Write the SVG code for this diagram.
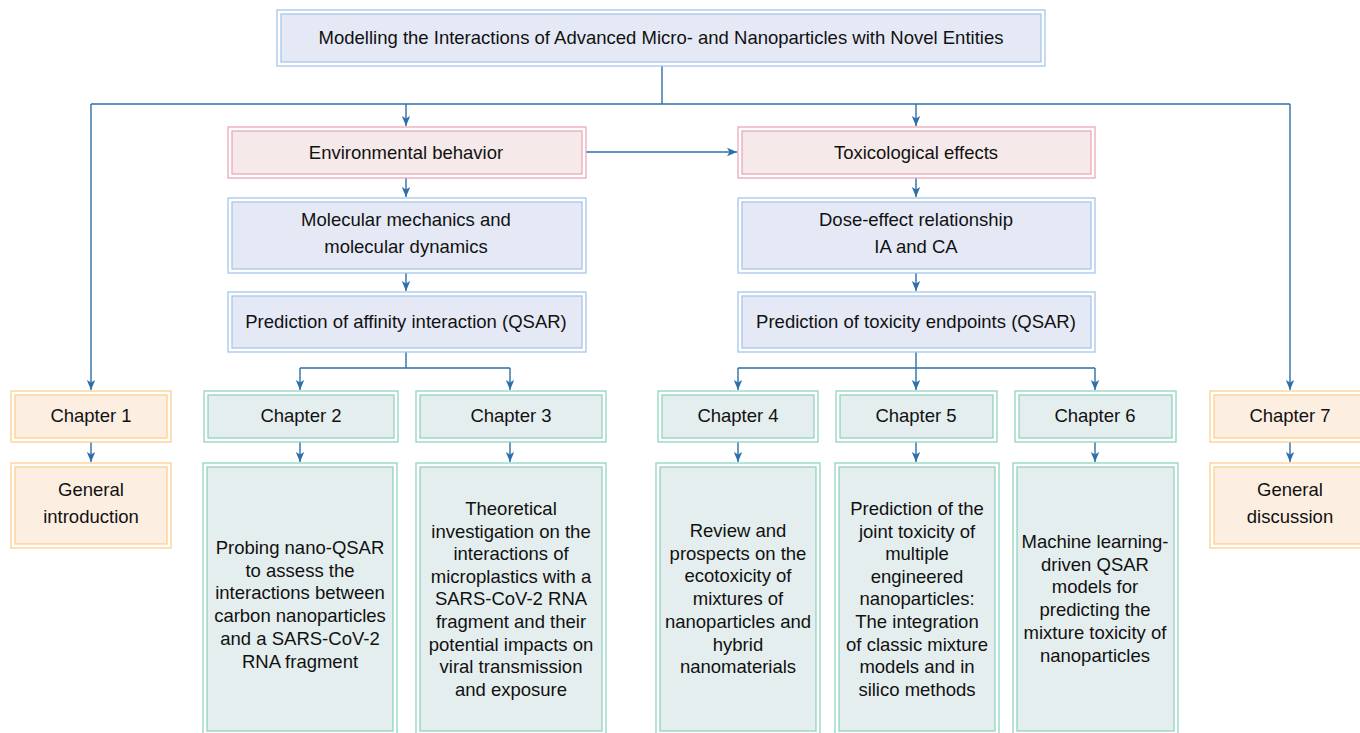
<svg xmlns="http://www.w3.org/2000/svg" width="1360" height="733" viewBox="0 0 1360 733">
<defs>
<style>
text{font-family:"Liberation Sans",Arial,sans-serif;font-size:18.5px;fill:#111;text-anchor:middle}
.o{fill:#fff;stroke-width:1.3}
.i{stroke-width:1.3}
.blue .o,.blue .i{stroke:#a7c6ea}
.blue .i{fill:#e5e9f5}
.pink .o,.pink .i{stroke:#eaa9b9}
.pink .i{fill:#f5e9e9}
.green .o,.green .i{stroke:#92d3c0}
.green .i{fill:#e5eeee}
.orange .o,.orange .i{stroke:#fcd08f}
.orange .i{fill:#fdeee2}
.c{fill:none;stroke:#2b70a8;stroke-width:1.4}
</style>
<marker id="ah" markerUnits="userSpaceOnUse" viewBox="0 0 10 10" markerWidth="10" markerHeight="10" refX="10" refY="5" orient="auto">
<path d="M0,0.8 L10,5 L0,9.2 L2.5,5 z" fill="#2b70a8"/>
</marker>
</defs>
<rect width="1360" height="733" fill="#fff"/>

<g id="connectors">
<path class="c" d="M662,66 V104"/>
<path class="c" d="M91,104 H1290"/>
<path class="c" d="M91,104 V390" marker-end="url(#ah)"/>
<path class="c" d="M406,104 V126" marker-end="url(#ah)"/>
<path class="c" d="M916,104 V126" marker-end="url(#ah)"/>
<path class="c" d="M1290,104 V390" marker-end="url(#ah)"/>
<path class="c" d="M586,152 H737" marker-end="url(#ah)"/>
<path class="c" d="M406,178 V197" marker-end="url(#ah)"/>
<path class="c" d="M916,178 V197" marker-end="url(#ah)"/>
<path class="c" d="M406,273 V291" marker-end="url(#ah)"/>
<path class="c" d="M916,273 V291" marker-end="url(#ah)"/>
<path class="c" d="M406,352 V368 M300,368 H510"/>
<path class="c" d="M300,368 V390" marker-end="url(#ah)"/>
<path class="c" d="M510,368 V390" marker-end="url(#ah)"/>
<path class="c" d="M916,352 V368 M738,368 H1095"/>
<path class="c" d="M738,368 V390" marker-end="url(#ah)"/>
<path class="c" d="M916,368 V390" marker-end="url(#ah)"/>
<path class="c" d="M1095,368 V390" marker-end="url(#ah)"/>
<path class="c" d="M91,442 V462" marker-end="url(#ah)"/>
<path class="c" d="M300,442 V462" marker-end="url(#ah)"/>
<path class="c" d="M510,442 V462" marker-end="url(#ah)"/>
<path class="c" d="M738,442 V462" marker-end="url(#ah)"/>
<path class="c" d="M916,442 V462" marker-end="url(#ah)"/>
<path class="c" d="M1095,442 V462" marker-end="url(#ah)"/>
<path class="c" d="M1290,442 V462" marker-end="url(#ah)"/>
</g>

<g id="title" class="blue">
<rect class="o" x="277" y="10" width="768" height="56"/>
<rect class="i" x="281" y="14" width="760" height="48"/>
<text x="661" y="44">Modelling the Interactions of Advanced Micro- and Nanoparticles with Novel Entities</text>
</g>

<g id="env" class="pink">
<rect class="o" x="228" y="127" width="358" height="51"/>
<rect class="i" x="232" y="131" width="350" height="43"/>
<text x="406" y="159">Environmental behavior</text>
</g>
<g id="tox" class="pink">
<rect class="o" x="738" y="127" width="357" height="51"/>
<rect class="i" x="742" y="131" width="349" height="43"/>
<text x="916" y="159">Toxicological effects</text>
</g>

<g id="mm" class="blue">
<rect class="o" x="228" y="198" width="358" height="75"/>
<rect class="i" x="232" y="202" width="350" height="67"/>
<text x="406" y="225.5">Molecular mechanics and<tspan x="406" dy="27.5">molecular dynamics</tspan></text>
</g>
<g id="dose" class="blue">
<rect class="o" x="738" y="198" width="357" height="75"/>
<rect class="i" x="742" y="202" width="349" height="67"/>
<text x="916" y="225.5">Dose-effect relationship<tspan x="916" dy="27.5">IA and CA</tspan></text>
</g>

<g id="aff" class="blue">
<rect class="o" x="228" y="292" width="358" height="60"/>
<rect class="i" x="232" y="296" width="350" height="52"/>
<text x="406" y="328">Prediction of affinity interaction (QSAR)</text>
</g>
<g id="toxq" class="blue">
<rect class="o" x="738" y="292" width="357" height="60"/>
<rect class="i" x="742" y="296" width="349" height="52"/>
<text x="916" y="328">Prediction of toxicity endpoints (QSAR)</text>
</g>

<g id="ch1" class="orange">
<rect class="o" x="11" y="391" width="160" height="51"/>
<rect class="i" x="15" y="395" width="152" height="43"/>
<text x="91" y="422">Chapter 1</text>
</g>
<g id="ch2" class="green">
<rect class="o" x="204" y="391" width="194" height="51"/>
<rect class="i" x="208" y="395" width="186" height="43"/>
<text x="301" y="422">Chapter 2</text>
</g>
<g id="ch3" class="green">
<rect class="o" x="416" y="391" width="190" height="51"/>
<rect class="i" x="420" y="395" width="182" height="43"/>
<text x="511" y="422">Chapter 3</text>
</g>
<g id="ch4" class="green">
<rect class="o" x="658" y="391" width="160" height="51"/>
<rect class="i" x="662" y="395" width="152" height="43"/>
<text x="738" y="422">Chapter 4</text>
</g>
<g id="ch5" class="green">
<rect class="o" x="836" y="391" width="161" height="51"/>
<rect class="i" x="840" y="395" width="153" height="43"/>
<text x="916" y="422">Chapter 5</text>
</g>
<g id="ch6" class="green">
<rect class="o" x="1015" y="391" width="161" height="51"/>
<rect class="i" x="1019" y="395" width="153" height="43"/>
<text x="1095" y="422">Chapter 6</text>
</g>
<g id="ch7" class="orange">
<rect class="o" x="1210" y="391" width="160" height="51"/>
<rect class="i" x="1214" y="395" width="152" height="43"/>
<text x="1290" y="422">Chapter 7</text>
</g>

<g id="intro" class="orange">
<rect class="o" x="11" y="463" width="160" height="85"/>
<rect class="i" x="15" y="467" width="152" height="77"/>
<text x="91" y="496">General<tspan x="91" dy="27">introduction</tspan></text>
</g>
<g id="disc" class="orange">
<rect class="o" x="1210" y="463" width="160" height="85"/>
<rect class="i" x="1214" y="467" width="152" height="77"/>
<text x="1290" y="496">General<tspan x="1290" dy="27">discussion</tspan></text>
</g>

<g id="p2" class="green">
<rect class="o" x="203" y="463" width="194" height="275"/>
<rect class="i" x="207" y="467" width="186" height="264"/>
<text x="300" y="554">Probing nano-QSAR<tspan x="300" dy="22.7">to assess the</tspan><tspan x="300" dy="22.7">interactions between</tspan><tspan x="300" dy="22.7">carbon nanoparticles</tspan><tspan x="300" dy="22.7">and a SARS-CoV-2</tspan><tspan x="300" dy="22.7">RNA fragment</tspan></text>
</g>
<g id="p3" class="green">
<rect class="o" x="416" y="463" width="190" height="275"/>
<rect class="i" x="420" y="467" width="182" height="264"/>
<text x="511" y="515">Theoretical<tspan x="511" dy="22.6">investigation on the</tspan><tspan x="511" dy="22.6">interactions of</tspan><tspan x="511" dy="22.6">microplastics with a</tspan><tspan x="511" dy="22.6">SARS-CoV-2 RNA</tspan><tspan x="511" dy="22.6">fragment and their</tspan><tspan x="511" dy="22.6">potential impacts on</tspan><tspan x="511" dy="22.6">viral transmission</tspan><tspan x="511" dy="22.6">and exposure</tspan></text>
</g>
<g id="p4" class="green">
<rect class="o" x="656" y="463" width="164" height="275"/>
<rect class="i" x="660" y="467" width="156" height="264"/>
<text x="738" y="537">Review and<tspan x="738" dy="22.7">prospects on the</tspan><tspan x="738" dy="22.7">ecotoxicity of</tspan><tspan x="738" dy="22.7">mixtures of</tspan><tspan x="738" dy="22.7">nanoparticles and</tspan><tspan x="738" dy="22.7">hybrid</tspan><tspan x="738" dy="22.7">nanomaterials</tspan></text>
</g>
<g id="p5" class="green">
<rect class="o" x="835" y="463" width="164" height="275"/>
<rect class="i" x="839" y="467" width="156" height="264"/>
<text x="917" y="515">Prediction of the<tspan x="917" dy="22.6">joint toxicity of</tspan><tspan x="917" dy="22.6">multiple</tspan><tspan x="917" dy="22.6">engineered</tspan><tspan x="917" dy="22.6">nanoparticles:</tspan><tspan x="917" dy="22.6">The integration</tspan><tspan x="917" dy="22.6">of classic mixture</tspan><tspan x="917" dy="22.6">models and in</tspan><tspan x="917" dy="22.6">silico methods</tspan></text>
</g>
<g id="p6" class="green">
<rect class="o" x="1013" y="463" width="165" height="275"/>
<rect class="i" x="1017" y="467" width="157" height="264"/>
<text x="1095" y="548">Machine learning-<tspan x="1095" dy="22.7">driven QSAR</tspan><tspan x="1095" dy="22.7">models for</tspan><tspan x="1095" dy="22.7">predicting the</tspan><tspan x="1095" dy="22.7">mixture toxicity of</tspan><tspan x="1095" dy="22.7">nanoparticles</tspan></text>
</g>
</svg>
